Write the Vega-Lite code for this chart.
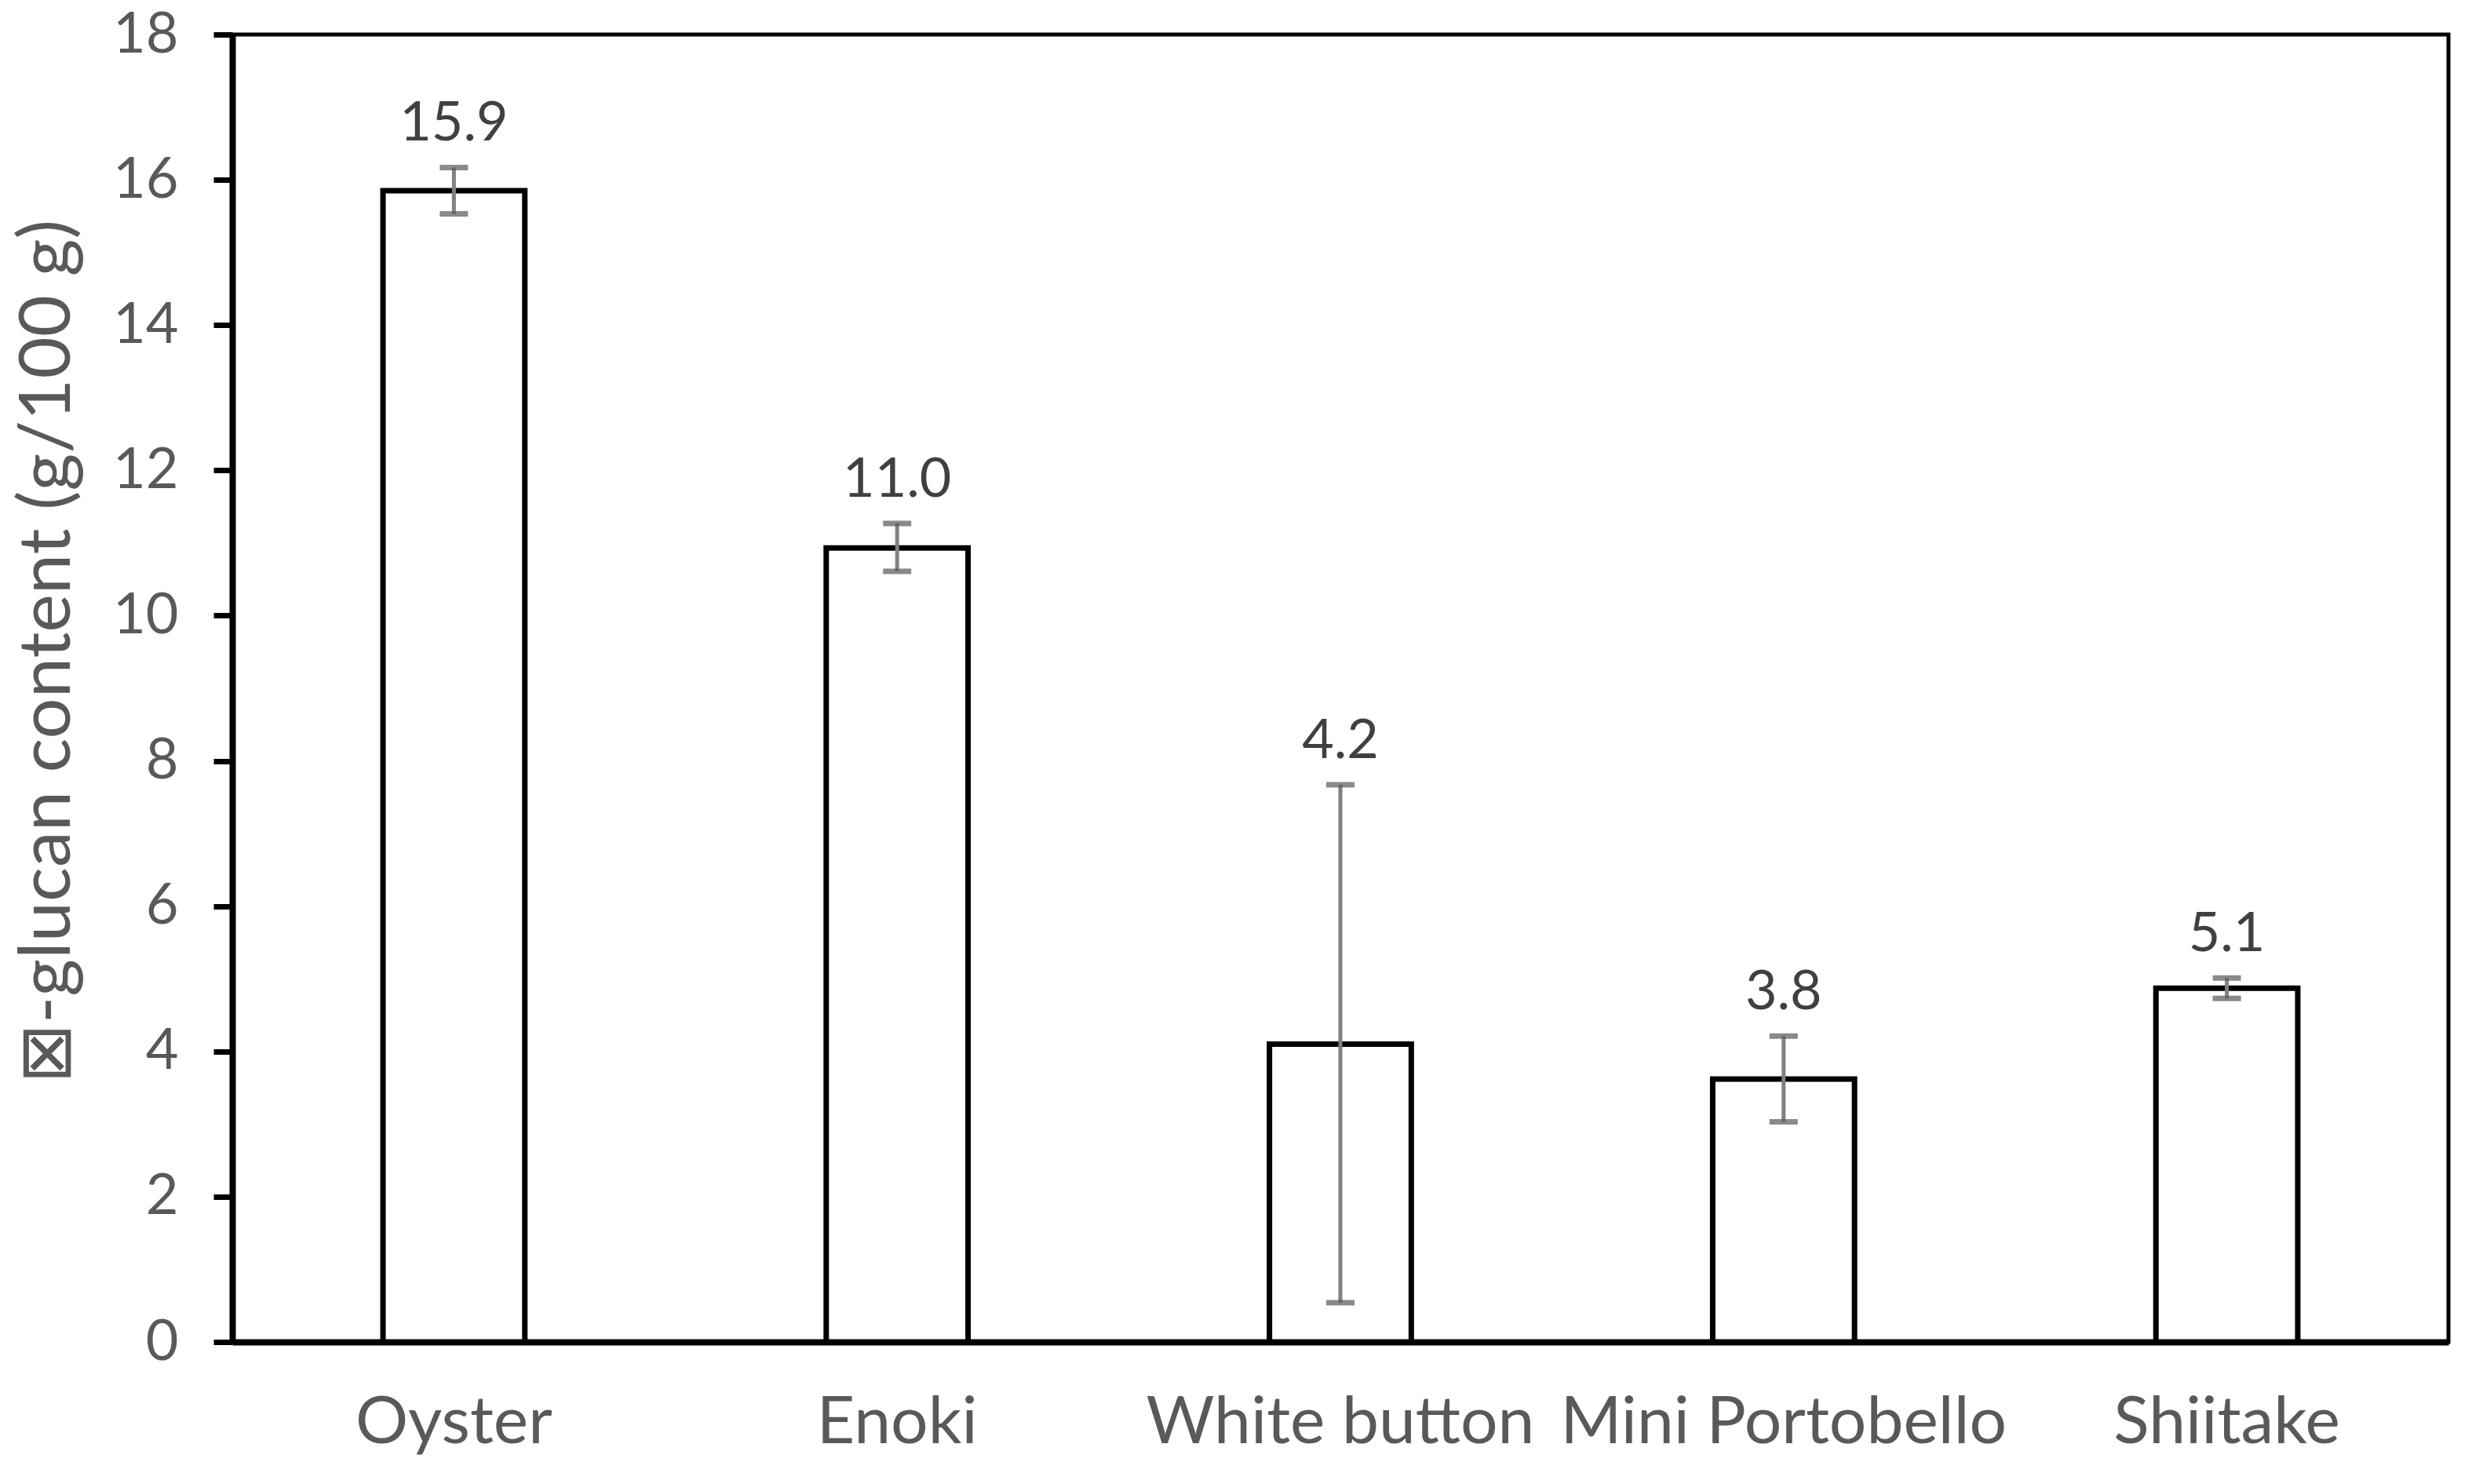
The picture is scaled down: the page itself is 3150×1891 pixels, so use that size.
{
  "$schema": "https://vega.github.io/schema/vega-lite/v6.json",
  "width": 2824,
  "height": 1666,
  "autosize": "none",
  "padding": {"left": 296, "top": 44, "right": 30, "bottom": 181},
  "background": "white",
  "data": {
    "values": [
      {"mushroom": "Oyster", "mean": 15.85, "lo": 15.53, "hi": 16.17, "label": "15.9"},
      {"mushroom": "Enoki", "mean": 10.93, "lo": 10.61, "hi": 11.27, "label": "11.0"},
      {"mushroom": "White button", "mean": 4.1, "lo": 0.54, "hi": 7.67, "label": "4.2"},
      {"mushroom": "Mini Portobello", "mean": 3.62, "lo": 3.03, "hi": 4.21, "label": "3.8"},
      {"mushroom": "Shiitake", "mean": 4.87, "lo": 4.73, "hi": 5.01, "label": "5.1"}
    ]
  },
  "encoding": {
    "x": {
      "field": "mushroom",
      "type": "nominal",
      "sort": null,
      "scale": {"paddingInner": 0.68, "paddingOuter": 0.34},
      "axis": {
        "title": null,
        "labelAngle": 0,
        "labelLimit": 0,
        "ticks": false,
        "labelPadding": 62,
        "labelFontSize": 84,
        "labelFont": "Lato",
        "labelColor": "#595959",
        "domainColor": "black",
        "domainWidth": 8
      }
    }
  },
  "layer": [
    {
      "mark": {"type": "bar", "fill": "white", "stroke": "black", "strokeWidth": 7},
      "encoding": {
        "y": {
          "field": "mean",
          "type": "quantitative",
          "scale": {"domain": [0, 18], "nice": false},
          "axis": {
            "title": "⊠-glucan content (g/100 g)",
            "titleFont": "Lato",
            "titleFontSize": 92,
            "titleFontWeight": "normal",
            "titleColor": "#595959",
            "titlePadding": 36,
            "titleY": 786,
            "values": [0, 2, 4, 6, 8, 10, 12, 14, 16, 18],
            "format": "d",
            "grid": false,
            "labelFont": "Lato",
            "labelFontSize": 72,
            "labelColor": "#595959",
            "labelPadding": 45,
            "tickColor": "black",
            "tickWidth": 7,
            "tickSize": 24,
            "domainColor": "black",
            "domainWidth": 8
          }
        }
      }
    },
    {
      "mark": {"type": "rule", "color": "#808080", "strokeWidth": 5},
      "encoding": {
        "y": {"field": "lo", "type": "quantitative"},
        "y2": {"field": "hi"}
      }
    },
    {
      "mark": {"type": "tick", "color": "#595959", "thickness": 7, "size": 36},
      "encoding": {"y": {"field": "lo", "type": "quantitative"}}
    },
    {
      "mark": {"type": "tick", "color": "#595959", "thickness": 7, "size": 36},
      "encoding": {"y": {"field": "hi", "type": "quantitative"}}
    },
    {
      "mark": {
        "type": "text",
        "font": "Lato",
        "fontSize": 70,
        "color": "#404040",
        "baseline": "alphabetic",
        "dy": -34
      },
      "encoding": {
        "y": {"field": "hi", "type": "quantitative"},
        "text": {"field": "label"}
      }
    }
  ],
  "config": {
    "view": {"stroke": "black", "strokeWidth": 5}
  }
}
